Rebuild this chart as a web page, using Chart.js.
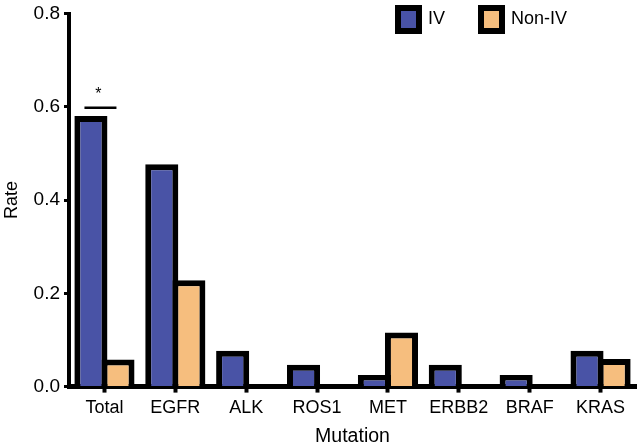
<!DOCTYPE html>
<html><head><meta charset="utf-8">
<script src="https://cdn.jsdelivr.net/npm/chart.js@4/dist/chart.umd.min.js"></script>
<style>html,body{margin:0;padding:0;background:#fff}#wrap{width:640px;height:448px}</style>
</head><body><div id="wrap"><canvas id="c"></canvas></div>
<script>
const categories = ['Total', 'EGFR', 'ALK', 'ROS1', 'MET', 'ERBB2', 'BRAF', 'KRAS'];
const seriesNames = ['IV', 'Non-IV'];
const ivRates = [0.58, 0.477, 0.077, 0.047, 0.025, 0.047, 0.025, 0.077];
const nonIvRates = [0.058, 0.228, 0, 0, 0.116, 0, 0, 0.059];
const yTickValues = [0, 0.2, 0.4, 0.6, 0.8];
const sigCategoryIndex = 0;
const sigLevel = 0.6;
const sigMark = '*';

const FONT = 'Liberation Sans, Arial, Helvetica, sans-serif';
Chart.defaults.font.family = FONT;
Chart.defaults.color = '#000';

// keep the legend from taking layout space, then place it in the plot's upper right
const legendPlace = {
  id: 'legendPlace',
  afterInit(chart) {
    const lg = chart.legend;
    if (lg && !lg._patched) {
      const orig = lg.fit.bind(lg);
      lg.fit = function () { orig(); this.height = 0; };
      lg._patched = true;
    }
  },
  afterLayout(chart) {
    const lg = chart.legend;
    const pad = lg.options.labels.padding;
    lg.left = 398 - pad;
    lg.right = 640;
    lg.top = 8 - pad;
    lg.bottom = lg.top + 90;
    lg.width = lg.right - lg.left;
    lg.height = lg.bottom - lg.top;
  }
};

const sigPlugin = {
  id: 'sigPlugin',
  afterDraw(chart) {
    const x = chart.scales.x.getPixelForValue(sigCategoryIndex);
    const y = chart.scales.y.getPixelForValue(sigLevel);
    const ctx = chart.ctx;
    ctx.save();
    ctx.strokeStyle = '#000';
    ctx.lineWidth = 2.5;
    ctx.beginPath();
    ctx.moveTo(x - 20, y + 1);
    ctx.lineTo(x + 12, y + 1);
    ctx.stroke();
    ctx.fillStyle = '#000';
    ctx.font = '16px ' + FONT;
    ctx.textAlign = 'center';
    ctx.textBaseline = 'middle';
    ctx.fillText(sigMark, x - 6, y - 12);
    ctx.restore();
  }
};

const barBorder = { top: 6, left: 6, right: 6, bottom: 0 };

new Chart(document.getElementById('c'), {
  type: 'bar',
  data: {
    labels: categories,
    datasets: [
      { label: seriesNames[0], data: ivRates, backgroundColor: '#4953a6', borderColor: '#000', borderWidth: barBorder, borderSkipped: false },
      { label: seriesNames[1], data: nonIvRates, backgroundColor: '#f6be7e', borderColor: '#000', borderWidth: barBorder, borderSkipped: false }
    ]
  },
  options: {
    responsive: true,
    maintainAspectRatio: false,
    animation: false,
    datasets: { bar: { categoryPercentage: 0.764, barPercentage: 1.222 } },
    layout: { padding: { top: 2, right: 4, left: 1, bottom: 0 } },
    plugins: {
      tooltip: { enabled: false },
      legend: {
        position: 'top',
        align: 'start',
        labels: { boxWidth: 21, boxHeight: 23, padding: 36, font: { size: 18 }, color: '#000', generateLabels(chart) {
          return chart.data.datasets.map((d, i) => ({ text: d.label, fillStyle: d.backgroundColor, strokeStyle: '#000', lineWidth: 6, hidden: false, datasetIndex: i, fontColor: '#000' }));
        } }
      }
    },
    scales: {
      x: {
        z: 1,
        grid: { display: true, drawOnChartArea: false, offset: false, tickLength: 6, tickWidth: 4, color: '#000' },
        border: { display: true, width: 5, color: '#000' },
        ticks: { font: { size: 18, lineHeight: 1 }, color: '#000', padding: 6, maxRotation: 0 },
        title: { display: true, text: 'Mutation', font: { size: 19.5 }, color: '#000', padding: { top: 2, bottom: 0 } }
      },
      y: {
        min: 0, max: 0.8,
        afterBuildTicks(scale) { scale.ticks = yTickValues.map(v => ({ value: v })); },
        grid: { display: true, drawOnChartArea: false, tickLength: 5, tickWidth: 3, color: '#000' },
        border: { display: true, width: 4, color: '#000' },
        ticks: { font: { size: 19, lineHeight: 1 }, color: '#000', padding: 4, callback: v => Number(v).toFixed(1) },
        title: { display: true, text: 'Rate', font: { size: 18 }, color: '#000', padding: { top: 0, bottom: 7 } }
      }
    }
  },
  plugins: [legendPlace, sigPlugin]
});
</script>
</body></html>
